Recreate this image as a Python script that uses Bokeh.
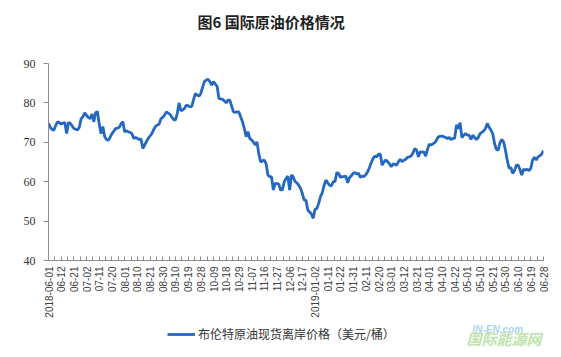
import math
from bokeh.plotting import figure
from bokeh.layouts import column
from bokeh.models import (Range1d, FixedTicker, Legend, LegendItem, Label, ColumnDataSource)
from bokeh.embed import file_html
from bokeh.resources import INLINE

title_text = "图6 国际原油价格情况"
series_name = "布伦特原油现货离岸价格（美元/桶）"
watermark_en = "IN-EN.com"
watermark_cn = "国际能源网"

tick_labels = ["2018-06-01", "06-12", "06-21", "07-02", "07-11", "07-20", "08-01", "08-10",
               "08-21", "08-30", "09-10", "09-19", "09-28", "10-09", "10-18", "10-29",
               "11-07", "11-16", "11-27", "12-06", "12-17", "2019-01-02", "01-11", "01-22",
               "01-31", "02-11", "02-20", "03-01", "03-12", "03-21", "04-01", "04-10",
               "04-22", "05-01", "05-10", "05-21", "05-30", "06-10", "06-19", "06-28"]
label_step = 7

brent = [
    74.8, 73.8, 73.2, 73.1, 74.3, 75.2, 75.0, 74.6, 74.9, 75.0,
    72.2, 75.0, 74.8, 74.2, 73.5, 73.3, 73.1, 73.8, 76.0, 76.5,
    77.5, 76.8, 76.3, 76.0, 77.2, 75.2, 77.5, 77.8, 74.5, 72.2,
    74.0, 71.4, 70.7, 70.5, 71.3, 72.2, 72.8, 73.5, 73.6, 73.8,
    74.7, 75.2, 72.7, 72.9, 72.7, 72.5, 72.2, 71.0, 71.2, 71.0,
    70.7, 70.9, 68.4, 69.3, 70.2, 71.0, 71.6, 72.2, 73.2, 74.0,
    74.4, 74.6, 76.0, 76.3, 76.9, 77.7, 77.4, 77.1, 76.4, 75.8,
    75.6, 77.3, 80.0, 78.0, 78.2, 78.6, 79.4, 79.3, 79.0, 79.1,
    80.8, 82.4, 82.0, 81.7, 82.4, 84.0, 85.4, 85.8, 86.0, 85.4,
    84.5, 85.4, 84.8, 84.2, 81.1, 81.0, 80.9, 80.5, 80.0, 80.7,
    80.7, 79.2, 77.7, 77.6, 77.7, 77.7, 76.4, 75.2, 73.5, 71.4,
    72.7, 71.0, 70.6, 70.1, 69.3, 70.1, 67.0, 65.0, 65.3, 65.5,
    64.6, 61.7, 61.3, 61.2, 57.9, 59.6, 59.5, 59.4, 57.9, 57.9,
    60.0, 60.8, 61.4, 57.9, 61.7, 61.2, 60.0, 59.7, 59.1, 58.3,
    57.0, 55.3, 55.3, 52.8, 52.3, 51.8, 50.7, 53.0, 53.2, 54.5,
    56.2, 57.2, 59.1, 60.4, 59.7, 59.1, 58.9, 60.0, 60.0, 62.3,
    62.1, 61.1, 61.3, 61.3, 61.4, 59.7, 61.0, 61.5, 62.1, 62.3,
    62.0, 62.1, 61.1, 61.4, 61.3, 61.8, 62.5, 63.6, 64.8, 65.9,
    66.5, 66.3, 67.0, 67.0, 64.2, 65.0, 65.5, 65.1, 64.6, 63.8,
    64.5, 64.4, 64.2, 65.1, 65.7, 65.1, 65.4, 65.7, 66.2, 66.3,
    66.5, 67.3, 68.4, 68.0, 66.3, 67.6, 67.5, 67.6, 66.5, 68.2,
    69.5, 69.3, 69.6, 69.9, 70.6, 71.4, 71.5, 71.6, 71.4, 71.2,
    71.0, 71.2, 70.7, 71.0, 71.0, 74.4, 73.5, 75.0, 71.2, 71.8,
    72.2, 71.8, 71.8, 70.7, 71.8, 71.2, 70.7, 71.2, 72.2, 72.5,
    72.9, 73.5, 74.8, 73.8, 73.1, 72.2, 69.7, 68.2, 68.0, 69.9,
    70.7, 70.1, 68.0, 65.5, 63.4, 63.6, 62.1, 62.8, 64.2, 64.2,
    63.1, 61.7, 63.1, 63.0, 63.1, 62.8, 63.4, 65.5, 66.2, 65.5,
    66.3, 66.6, 67.0, 67.9,
]

y_ticks = [40, 50, 60, 70, 80, 90]

LINE_COLOR = "#2468C2"
LINE_WIDTH = 2.8
W = 553
FL, FR = 48, 543   # frame left / right in page pixels (shared by all rows of the column)


def strip(height):
    f = figure(width=W, height=height, output_backend="svg", toolbar_location=None,
               x_range=Range1d(FL, FR), y_range=Range1d(0, height),
               x_axis_location=None, y_axis_location=None,
               min_border_left=FL, min_border_right=W - FR, min_border_top=0, min_border_bottom=0,
               background_fill_color="white", border_fill_color="white")
    f.outline_line_color = None
    f.xgrid.visible = False
    f.ygrid.visible = False
    return f


# title strip
p0 = strip(40)
p0.add_layout(Label(x=197, y=19, text=title_text, text_baseline="middle", text_align="left",
                    text_font="Noto Sans CJK SC", text_font_size="15px", text_font_style="bold",
                    text_color="#222222"))

idx = list(range(len(brent)))
src = ColumnDataSource(dict(x=idx, y=brent))

p = figure(width=W, height=282, output_backend="svg", toolbar_location=None,
           x_range=Range1d(0, len(brent) - 1), y_range=Range1d(40, 90),
           min_border_left=FL, min_border_right=W - FR, min_border_top=23, min_border_bottom=62,
           background_fill_color="white", border_fill_color="white")
p.outline_line_color = None
p.xgrid.visible = False
p.ygrid.visible = False

p.line("x", "y", source=src, line_color=LINE_COLOR, line_width=LINE_WIDTH)

# y axis
yax = p.yaxis[0]
yax.ticker = FixedTicker(ticks=y_ticks)
yax.axis_line_color = "#8c8c8c"
yax.major_tick_line_color = "#8c8c8c"
yax.major_tick_out = 5
yax.major_tick_in = 0
yax.minor_tick_line_color = None
yax.major_label_text_font = "Liberation Serif"
yax.major_label_text_font_size = "12px"
yax.major_label_text_color = "#333333"
yax.major_label_standoff = 8

# x axis
xax = p.xaxis[0]
major = [i * label_step for i in range(len(tick_labels))]
minor = [i * label_step + label_step / 2 for i in range(len(tick_labels) - 1)]
xax.ticker = FixedTicker(ticks=major, minor_ticks=minor)
xax.major_label_overrides = {m: t for m, t in zip(major, tick_labels)}
xax.major_label_orientation = math.pi / 2
xax.axis_line_color = "#8c8c8c"
xax.major_tick_line_color = "#8c8c8c"
xax.minor_tick_line_color = "#8c8c8c"
xax.major_tick_in = 4
xax.major_tick_out = 0
xax.minor_tick_in = 4
xax.minor_tick_out = 0
xax.major_label_text_font = "Liberation Sans"
xax.major_label_text_font_size = "10px"
xax.major_label_text_color = "#404040"
xax.major_label_standoff = 6

# bottom strip: legend + watermark
p2 = strip(27)
# the same series drawn off-screen here, only so that the legend has a glyph to show
legend_line = p2.line("x", "y", source=src, line_color=LINE_COLOR, line_width=LINE_WIDTH)

legend = Legend(items=[LegendItem(label=series_name, renderers=[legend_line])],
                location=(167 - FL, 7), orientation="horizontal",
                border_line_color=None, background_fill_alpha=0,
                padding=0, margin=0, glyph_width=28, glyph_height=16,
                label_standoff=3, label_text_font="Noto Sans CJK SC",
                label_text_font_size="12px", label_text_color="#333333")
p2.add_layout(legend, "center")

p2.add_layout(Label(x=472, y=15, text=watermark_en,
                    text_font="Liberation Sans", text_font_size="10px", text_font_style="bold italic",
                    text_color="#a9d6f2"))
p2.add_layout(Label(x=466, y=1, text=watermark_cn,
                    text_font="Noto Sans CJK SC", text_font_size="15px", text_font_style="bold italic",
                    text_color="#c2e3ad"))

layout = column(p0, p, p2, spacing=0)
open("out.html", "w").write(file_html(layout, INLINE))
